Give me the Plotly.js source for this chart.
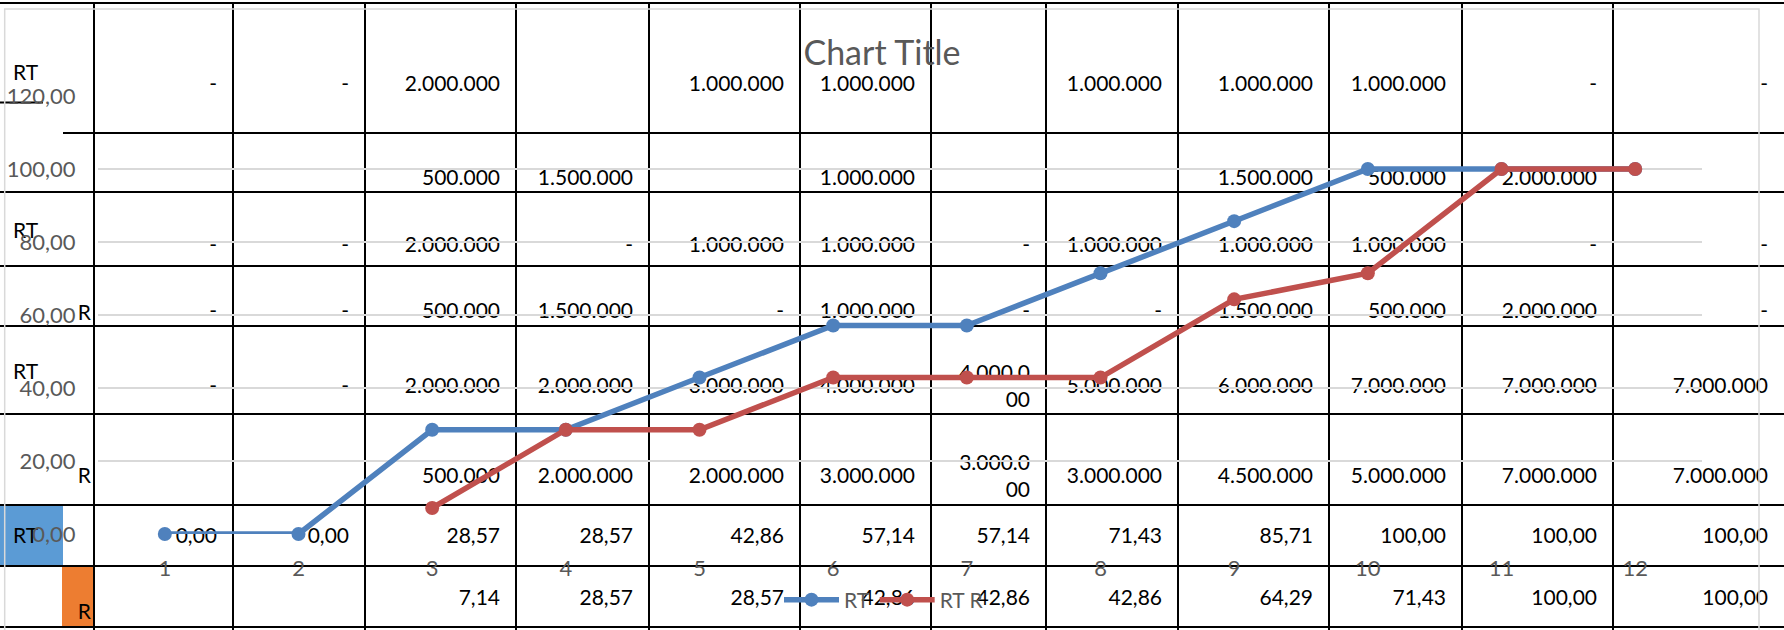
<!DOCTYPE html>
<html><head><meta charset="utf-8">
<script src="https://cdn.plot.ly/plotly-3.0.1.min.js"></script>
<style>html,body{margin:0;padding:0;background:#fff;overflow:hidden}#chart{width:1784px;height:630px}</style>
</head><body><div id="chart"></div>
<script>
// ---- chart data ----
const categories = ['1','2','3','4','5','6','7','8','9','10','11','12'];
const seriesRT  = [0, 0, 28.57, 28.57, 42.86, 57.14, 57.14, 71.43, 85.71, 100, 100, 100];
const seriesRTR = [null, null, 7.14, 28.57, 28.57, 42.86, 42.86, 42.86, 64.29, 71.43, 100, 100];
const seriesNames = ['RT', 'RT R'];
const yTickVals = [0, 20, 40, 60, 80, 100, 120];

// ---- spreadsheet cells visible behind the chart ----
const rowA = ['-','-','2.000.000','','1.000.000','1.000.000','','1.000.000','1.000.000','1.000.000','-','-'];
const rowB = ['','','500.000','1.500.000','','1.000.000','','','1.500.000','500.000','2.000.000',''];
const rowC = ['-','-','2.000.000','-','1.000.000','1.000.000','-','1.000.000','1.000.000','1.000.000','-','-'];
const rowD = ['-','-','500.000','1.500.000','-','1.000.000','-','-','1.500.000','500.000','2.000.000','-'];
const rowE = ['-','-','2.000.000','2.000.000','3.000.000','4.000.000','4.000.0<br>00','5.000.000','6.000.000','7.000.000','7.000.000','7.000.000'];
const rowF = ['','','500.000','2.000.000','2.000.000','3.000.000','3.000.0<br>00','3.000.000','4.500.000','5.000.000','7.000.000','7.000.000'];
const fmt = v => (v === null ? '' : v.toFixed(2).replace('.', ','));
const rowG = seriesRT.map(fmt);
const rowH = seriesRTR.map(fmt);
const sheetRows = [rowA, rowB, rowC, rowD, rowE, rowF, rowG, rowH];
const headLabelsLeft  = ['RT', 'RT', 'RT', 'RT'];   // rows A, C, E, G
const headLabelsRight = ['R', 'R', 'R'];            // rows D, F, H

// ---- geometry (pixels of the sheet) ----
const W = 1784, H = 630;
const colEdges = [94, 233, 365, 516, 649, 800, 931, 1046, 1178, 1329, 1462, 1613, 1784];
const rowEdges = [3, 133, 192, 266, 326, 414, 505, 566, 627];
const rowTextY = [86, 180, 247, 313, 388, 478, 538, 600];
const headLeftY = [75, 233, 374, 538];
const headRightY = [315, 478, 614];
const cellPad = 16;
const plotL = 98, plotR = 1702, plotT = 96, plotB = 534;

const sheetFont = 'Lato, "Open Sans", sans-serif';

// sheet text trace
const sx = [], sy = [], st = [];
sheetRows.forEach((row, r) => {
  row.forEach((txt, c) => {
    if (txt === '') return;
    sx.push(colEdges[c + 1] - cellPad);
    sy.push(rowTextY[r]);
    st.push(txt);
  });
});

const traces = [
  {type:'scatter', mode:'text', x:sx, y:sy, text:st, textposition:'middle left',
   textfont:{family:sheetFont, size:21, color:'#000'}, hoverinfo:'skip', showlegend:false,
   xaxis:'x', yaxis:'y', cliponaxis:false},
  {type:'scatter', mode:'text', x:headLabelsLeft.map(() => 13), y:headLeftY, text:headLabelsLeft,
   textposition:'middle right', textfont:{family:sheetFont, size:21, color:'#000'},
   hoverinfo:'skip', showlegend:false, xaxis:'x', yaxis:'y', cliponaxis:false},
  {type:'scatter', mode:'text', x:headLabelsRight.map(() => 91), y:headRightY, text:headLabelsRight,
   textposition:'middle left', textfont:{family:sheetFont, size:21, color:'#000'},
   hoverinfo:'skip', showlegend:false, xaxis:'x', yaxis:'y', cliponaxis:false},
  {type:'scatter', mode:'lines+markers', name:seriesNames[0], x:categories, y:seriesRT,
   xaxis:'x2', yaxis:'y2', line:{color:'#4F81BD', width:5.5}, marker:{color:'#4F81BD', size:14},
   cliponaxis:false},
  {type:'scatter', mode:'lines+markers', name:seriesNames[1], x:categories, y:seriesRTR,
   xaxis:'x2', yaxis:'y2', line:{color:'#C0504D', width:5.5}, marker:{color:'#C0504D', size:14},
   cliponaxis:false, connectgaps:false}
];

const shapes = [];
// coloured header cells
shapes.push({type:'rect', xref:'x', yref:'y', x0:0, x1:63, y0:505, y1:566, fillcolor:'#5B9BD5', line:{width:0}, layer:'below'});
shapes.push({type:'rect', xref:'x', yref:'y', x0:62, x1:94, y0:566, y1:627, fillcolor:'#ED7D31', line:{width:0}, layer:'below'});
// horizontal sheet lines
rowEdges.forEach(y => {
  shapes.push({type:'line', xref:'x', yref:'y', x0:(y === 133 ? 63 : 0), x1:W, y0:y, y1:y, line:{color:'#000', width:2}, layer:'below'});
});
shapes.push({type:'line', xref:'x', yref:'y', x0:0, x1:43, y0:102.5, y1:102.5, line:{color:'#000', width:2}, layer:'below'});
// vertical sheet lines
colEdges.slice(0, -1).forEach(x => {
  shapes.push({type:'line', xref:'x', yref:'y', x0:x, x1:x, y0:3, y1:H, line:{color:'#000', width:2}, layer:'below'});
});
// chart area border
shapes.push({type:'rect', xref:'x', yref:'y', x0:4.7, x1:1759, y0:9, y1:H + 20, fillcolor:'rgba(0,0,0,0)', line:{color:'#D9D9D9', width:1.5}, layer:'above'});

const axisFont = {family:sheetFont, size:22, color:'#595959'};
const layout = {
  width: W, height: H,
  margin: {l:0, r:0, t:0, b:0, pad:0},
  paper_bgcolor: '#ffffff', plot_bgcolor: 'rgba(0,0,0,0)',
  separators: ',.',
  font: axisFont,
  title: {text:'Chart Title', font:{family:sheetFont, size:34, color:'#595959'},
          x: 882 / W, xref:'paper', xanchor:'center', y: 1 - 53 / H, yref:'paper', yanchor:'middle'},
  xaxis: {domain:[0, 1], range:[0, W], visible:false, fixedrange:true},
  yaxis: {domain:[0, 1], range:[H, 0], visible:false, fixedrange:true},
  xaxis2: {domain:[plotL / W, plotR / W], anchor:'y2', type:'category',
           categoryorder:'array', categoryarray:categories, range:[-0.5, 11.5],
           showgrid:false, zeroline:false, showline:false,
           ticks:'outside', ticklen:15, tickcolor:'rgba(0,0,0,0)', tickfont:axisFont},
  yaxis2: {domain:[1 - plotB / H, 1 - plotT / H], anchor:'x2', range:[0, 120],
           tickvals:yTickVals, tickformat:'.2f', showgrid:true, gridcolor:'#D9D9D9', gridwidth:1.5,
           zeroline:false, showline:false,
           ticks:'outside', ticklen:17, tickcolor:'rgba(0,0,0,0)', tickfont:axisFont},
  showlegend: true,
  legend: {orientation:'h', x: 884 / W, xanchor:'center', y: 1 - 600 / H, yanchor:'middle',
           font:{family:sheetFont, size:21, color:'#595959'}, bgcolor:'rgba(0,0,0,0)', itemwidth:55, traceorder:'normal'},
  shapes: shapes
};

Plotly.newPlot('chart', traces, layout, {displayModeBar:false, staticPlot:true});
</script>
</body></html>
